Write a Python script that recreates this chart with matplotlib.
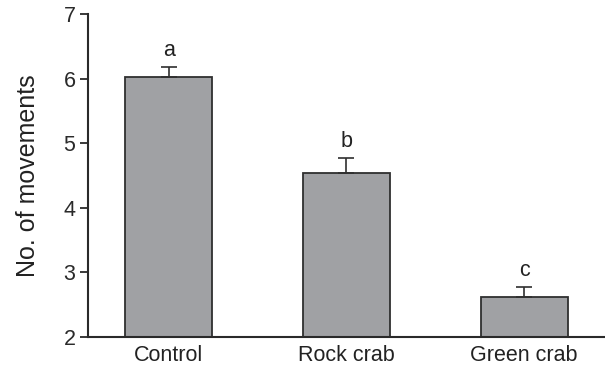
import matplotlib
matplotlib.use("Agg")
import matplotlib.pyplot as plt

categories = ["Control", "Rock crab", "Green crab"]
means = [6.03, 4.54, 2.62]
se = [0.16, 0.23, 0.15]
letters = ["a", "b", "c"]

plt.rcParams["font.family"] = ["Liberation Sans", "DejaVu Sans"]

fig = plt.figure(figsize=(6.05, 3.67), dpi=100)
ax = fig.add_axes([0.1455, 0.082, 0.8545, 0.879])

x = list(range(len(categories)))
ax.bar(x, [m - 2 for m in means], bottom=2, width=0.49, color="#a0a1a4",
       edgecolor="#2f2f2f", linewidth=1.3, zorder=2)
ax.errorbar(x, means, yerr=[[0] * len(se), se], fmt="none", ecolor="#2f2f2f",
            elinewidth=1.2, capsize=5.6, capthick=1.2, zorder=3)
for xi, m, s, lab in zip(x, means, se, letters):
    ax.text(xi, m + s + 0.09, lab, ha="center", va="bottom", fontsize=15.5, color="#222222")

ax.set_ylim(2, 7)
ax.set_xlim(-0.454, 2.455)
ax.set_yticks([2, 3, 4, 5, 6, 7])
ax.set_xticks(x)
ax.set_xticklabels(categories)
ax.set_ylabel("No. of movements", fontsize=18, color="#222222", labelpad=17)

for side in ("top", "right"):
    ax.spines[side].set_visible(False)
for side in ("left", "bottom"):
    ax.spines[side].set_linewidth(1.5)
    ax.spines[side].set_color("#2a2a2a")
ax.tick_params(axis="y", direction="out", length=6, width=1.3, labelsize=15.5,
               colors="#2a2a2a", pad=3)
ax.tick_params(axis="x", length=0, labelsize=15.5, colors="#222222", pad=6)

fig.savefig("out.png", dpi=100)
